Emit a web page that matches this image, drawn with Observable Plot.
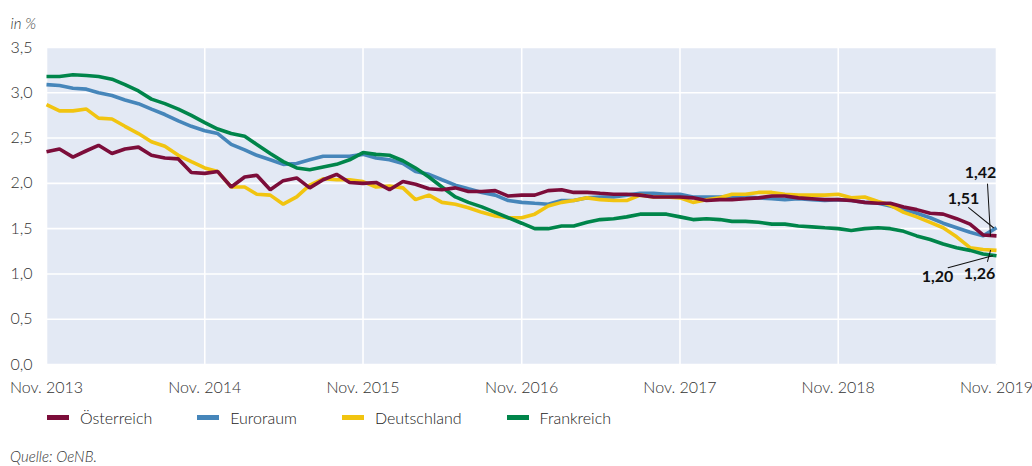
<!DOCTYPE html>
<html>
<head>
<meta charset="utf-8">
<script src="https://cdn.jsdelivr.net/npm/d3@7"></script>
<script src="https://cdn.jsdelivr.net/npm/@observablehq/plot@0.6"></script>
<style>
  body { margin: 0; background: #fff; font-family: Lato, "Open Sans", sans-serif; color: #222; }
  #wrap { position: relative; width: 1032px; height: 466px; }
  #legend { position: absolute; left: 47px; top: 408px; display: flex; align-items: center; font-size: 16px; font-weight: 300; }
  .item { display: flex; align-items: center; margin-right: 45px; }
  .sw { width: 22px; height: 5px; margin-right: 11px; }
  #caption { position: absolute; left: 10px; top: 447px; font-size: 15px; font-style: italic; font-weight: 300; color: #333; }
</style>
</head>
<body>
<div id="wrap">
  <div id="chart"></div>
  <div id="legend"></div>
  <div id="caption">Quelle: OeNB.</div>
</div>
<script>
const seriesNames = ["Österreich", "Euroraum", "Deutschland", "Frankreich"];
const seriesColors = ["#7c0d3a", "#4686ba", "#f1c410", "#00854a"];
const drawOrder = ["Euroraum", "Deutschland", "Frankreich", "Österreich"];

const austria = [2.35,2.38,2.29,2.36,2.42,2.33,2.38,2.40,2.31,2.28,2.27,2.12,2.11,2.13,1.96,2.07,2.09,1.93,2.03,2.06,1.95,2.04,2.10,2.01,2.00,2.01,1.93,2.02,1.99,1.94,1.93,1.95,1.91,1.91,1.92,1.86,1.87,1.87,1.92,1.93,1.90,1.90,1.89,1.88,1.88,1.87,1.85,1.85,1.85,1.84,1.81,1.82,1.82,1.83,1.84,1.86,1.86,1.84,1.83,1.82,1.82,1.81,1.79,1.78,1.78,1.74,1.71,1.67,1.66,1.61,1.55,1.43,1.42];
const euroArea = [3.09,3.08,3.05,3.04,3.00,2.97,2.92,2.88,2.82,2.76,2.69,2.63,2.58,2.55,2.43,2.37,2.31,2.26,2.21,2.22,2.26,2.30,2.30,2.30,2.32,2.28,2.26,2.22,2.13,2.10,2.04,1.98,1.94,1.90,1.87,1.81,1.79,1.78,1.77,1.81,1.81,1.84,1.85,1.85,1.87,1.89,1.89,1.88,1.88,1.85,1.85,1.85,1.86,1.85,1.84,1.83,1.82,1.83,1.82,1.81,1.82,1.81,1.79,1.78,1.75,1.71,1.67,1.62,1.56,1.51,1.46,1.42,1.51];
const germany = [2.87,2.80,2.80,2.82,2.72,2.71,2.63,2.55,2.46,2.41,2.31,2.24,2.17,2.13,1.96,1.96,1.88,1.87,1.77,1.85,1.98,2.05,2.04,2.04,2.02,1.96,1.97,1.95,1.82,1.87,1.79,1.77,1.73,1.68,1.64,1.62,1.62,1.66,1.75,1.79,1.81,1.84,1.82,1.81,1.81,1.87,1.85,1.85,1.84,1.79,1.82,1.84,1.88,1.88,1.90,1.90,1.88,1.87,1.87,1.87,1.88,1.84,1.85,1.80,1.76,1.68,1.63,1.57,1.51,1.41,1.29,1.27,1.26];
const france = [3.18,3.18,3.20,3.19,3.18,3.15,3.09,3.02,2.93,2.88,2.82,2.75,2.67,2.60,2.55,2.52,2.43,2.33,2.24,2.17,2.15,2.18,2.21,2.26,2.34,2.32,2.31,2.25,2.17,2.07,1.96,1.85,1.79,1.74,1.68,1.62,1.56,1.50,1.50,1.53,1.53,1.57,1.60,1.61,1.63,1.66,1.66,1.66,1.63,1.60,1.61,1.60,1.58,1.58,1.57,1.55,1.55,1.53,1.52,1.51,1.50,1.48,1.50,1.51,1.50,1.47,1.42,1.38,1.33,1.29,1.26,1.22,1.20];
const seriesValues = [austria, euroArea, germany, france];

const months = d3.utcMonth.range(new Date(Date.UTC(2013, 10, 1)), new Date(Date.UTC(2019, 11, 1)));
const xTicks = d3.utcYear.range(new Date(Date.UTC(2013, 0, 1)), new Date(Date.UTC(2020, 0, 1))).map(d => new Date(Date.UTC(d.getUTCFullYear(), 10, 1)));
const yTicks = [0, 0.5, 1, 1.5, 2, 2.5, 3, 3.5];

// end-value annotations: series, label, label offset (px), leader offset, length (px) and angle (deg)
const endLabels = ["1,42", "1,51", "1,26", "1,20"];
const endSeries = ["Österreich", "Euroraum", "Deutschland", "Frankreich"];
const labelDx = [-16, -33, -17, -59];
const labelDy = [-63, -29, 23, 21];
const leaderDx = [-6, -3, -6, -4];
const leaderLen = [52, 32, 11.5, 46];
const leaderRot = [-3.3, -51, -165, -105];

const rows = [];
seriesNames.forEach((name, s) => {
  seriesValues[s].forEach((v, i) => rows.push({series: name, date: months[i], value: v}));
});
const ordered = drawOrder.flatMap(n => rows.filter(r => r.series === n));

const last = months[months.length - 1];
const annos = endLabels.map((t, k) => {
  const s = seriesNames.indexOf(endSeries[k]);
  return {label: t, date: last, value: seriesValues[s][seriesValues[s].length - 1],
          dx: labelDx[k], dy: labelDy[k], ldx: leaderDx[k], len: leaderLen[k], rot: leaderRot[k]};
});

const fmt = d => d.toFixed(1).replace(".", ",");
const lineShape = { draw(context, l) { context.moveTo(0, 0); context.lineTo(0, -l); } };

const annoMarks = annos.flatMap(a => [
  Plot.vector([a], { x: "date", y: "value", dx: a.ldx, length: "len", rotate: "rot", anchor: "start", shape: lineShape, stroke: "#111", strokeWidth: 1 }),
  Plot.text([a], { x: "date", y: "value", text: "label", dx: a.dx, dy: a.dy, fontWeight: "bold", fontSize: 16, fill: "#111" })
]);

const chart = Plot.plot({
  width: 1032,
  height: 400,
  marginLeft: 46,
  marginRight: 36,
  marginTop: 47,
  marginBottom: 36,
  style: { fontFamily: "Lato, 'Open Sans', sans-serif", fontSize: "16px", fontWeight: 300, color: "#222", background: "#fff" },
  x: { type: "utc", domain: [months[0], last] },
  y: { domain: [0, 3.5] },
  length: { type: "identity" },
  color: { domain: seriesNames, range: seriesColors },
  marks: [
    Plot.frame({ fill: "#e3e9f4", stroke: null }),
    Plot.gridY(yTicks, { stroke: "#fff", strokeOpacity: 1, strokeWidth: 1.6 }),
    Plot.gridX(xTicks, { stroke: "#fff", strokeOpacity: 1, strokeWidth: 1.6 }),
    Plot.axisY(yTicks, { tickSize: 0, tickPadding: 36, textAnchor: "start", tickFormat: fmt, label: null, fill: "#333" }),
    Plot.axisX(xTicks, { tickSize: 0, tickPadding: 17, tickFormat: d => "Nov. " + d.getUTCFullYear(), label: null, fill: "#333" }),
    Plot.text(["in %"], { frameAnchor: "top-left", text: d => d, dx: -36, dy: -29, textAnchor: "start", fontStyle: "italic", fontSize: 15, fill: "#333" }),
    Plot.line(ordered, { x: "date", y: "value", z: "series", stroke: "series", strokeWidth: 3.6, strokeLinejoin: "miter", strokeLinecap: "butt" }),
    ...annoMarks
  ]
});
document.getElementById("chart").appendChild(chart);

const legend = document.getElementById("legend");
seriesNames.forEach((n, i) => {
  const it = document.createElement("div");
  it.className = "item";
  const sw = document.createElement("div");
  sw.className = "sw";
  sw.style.background = seriesColors[i];
  const tx = document.createElement("span");
  tx.textContent = n;
  it.appendChild(sw); it.appendChild(tx);
  legend.appendChild(it);
});
</script>
</body>
</html>
